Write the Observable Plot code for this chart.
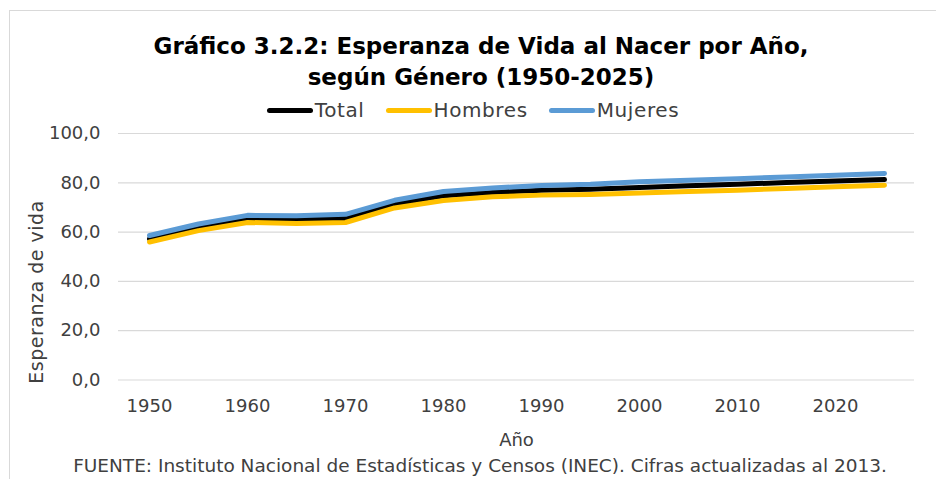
<!DOCTYPE html>
<html>
<head>
<meta charset="utf-8">
<script src="https://cdn.jsdelivr.net/npm/d3@7"></script>
<script src="https://cdn.jsdelivr.net/npm/@observablehq/plot@0.6"></script>
<style>
  html, body { margin: 0; padding: 0; background: #fff; }
  #wrap { position: relative; width: 936px; height: 479px; overflow: hidden; font-family: "DejaVu Sans", sans-serif; color: #404040; }
  #frame { position: absolute; left: 9px; top: 10px; width: 1000px; height: 600px; border: 1px solid #d9d9d9; box-sizing: border-box; }
  #title { position: absolute; left: 0; width: 936px; top: 31px; text-align: center; font-weight: bold; font-size: 23px; line-height: 31px; color: #000; padding-left: 26px; box-sizing: border-box; }
  #legend { position: absolute; top: 98px; left: 0; width: 936px; display: flex; justify-content: center; gap: 21px; font-size: 20px; letter-spacing: 0.6px; color: #404040; padding-left: 10px; box-sizing: border-box; }
  .item { display: flex; align-items: center; }
  .sw { display: inline-block; width: 46px; height: 5px; border-radius: 3px; margin-right: 2px; }
  #chart { position: absolute; left: 0; top: 120px; }
  #ylabel { position: absolute; left: 36px; top: 292px; transform: translate(-50%, -50%) rotate(-90deg); white-space: nowrap; font-size: 19px; letter-spacing: 0.5px; color: #404040; }
  #footer { position: absolute; left: 0; width: 936px; top: 455px; text-align: center; font-size: 18.5px; color: #404040; padding-left: 24px; box-sizing: border-box; }
</style>
</head>
<body>
<div id="wrap">
  <div id="frame"></div>
  <div id="title">Gráfico 3.2.2: Esperanza de Vida al Nacer por Año,<br>según Género (1950-2025)</div>
  <div id="legend"></div>
  <div id="chart"></div>
  <div id="ylabel">Esperanza de vida</div>
  <div id="footer">FUENTE: Instituto Nacional de Estadísticas y Censos (INEC). Cifras actualizadas al 2013.</div>
</div>
<script>
const years = [1950, 1955, 1960, 1965, 1970, 1975, 1980, 1985, 1990, 1995, 2000, 2005, 2010, 2015, 2020, 2025];
const total   = [57.2, 61.9, 65.3, 65.0, 65.5, 71.4, 74.7, 76.1, 77.0, 77.4, 78.1, 78.8, 79.4, 80.1, 80.7, 81.3];
const hombres = [56.0, 60.6, 63.9, 63.5, 63.9, 69.8, 72.8, 74.3, 75.0, 75.3, 75.9, 76.5, 77.0, 77.7, 78.4, 79.0];
const mujeres = [58.6, 63.3, 66.8, 66.6, 67.2, 72.9, 76.5, 77.9, 78.9, 79.4, 80.4, 81.0, 81.6, 82.4, 83.1, 83.8];
const seriesNames = ["Total", "Hombres", "Mujeres"];
const seriesColors = ["#000000", "#FFC000", "#5B9BD5"];
const yTicks = [0, 20, 40, 60, 80, 100];
const xTickYears = [1950, 1960, 1970, 1980, 1990, 2000, 2010, 2020];

const seriesValues = [total, hombres, mujeres];
const data = [];
seriesNames.forEach((name, i) => {
  years.forEach((yr, j) => data.push({serie: name, year: yr, value: seriesValues[i][j]}));
});

const legend = document.getElementById("legend");
seriesNames.forEach((n, i) => {
  const it = document.createElement("div");
  it.className = "item";
  it.innerHTML = `<span class="sw" style="background:${seriesColors[i]}"></span><span>${n}</span>`;
  legend.appendChild(it);
});

const fmt = d => d.toFixed(1).replace(".", ",");

const chart = Plot.plot({
  width: 936,
  height: 340,
  marginLeft: 118,
  marginRight: 22,
  marginTop: 13,
  marginBottom: 80.5,
  style: { fontFamily: "'DejaVu Sans', sans-serif", fontSize: "18px", color: "#404040", background: "transparent" },
  x: { type: "point", domain: years, padding: 0.5 },
  y: { domain: [0, 100] },
  color: { domain: seriesNames, range: seriesColors },
  marks: [
    Plot.gridY(yTicks, { stroke: "#d9d9d9", strokeOpacity: 1, strokeWidth: 1.2 }),
    Plot.axisY({ ticks: yTicks, tickFormat: fmt, tickSize: 0, tickPadding: 18, label: null, fontSize: 18 }),
    Plot.axisX({ ticks: xTickYears, tickFormat: d => String(d), tickSize: 0, tickPadding: 19, label: "Año", labelAnchor: "center", labelArrow: "none", labelOffset: 66, fontSize: 18 }),
    Plot.line(data, { x: "year", y: "value", z: "serie", stroke: "serie", strokeWidth: 5, strokeLinejoin: "round", strokeLinecap: "round" })
  ]
});
document.getElementById("chart").appendChild(chart);
</script>
</body>
</html>
